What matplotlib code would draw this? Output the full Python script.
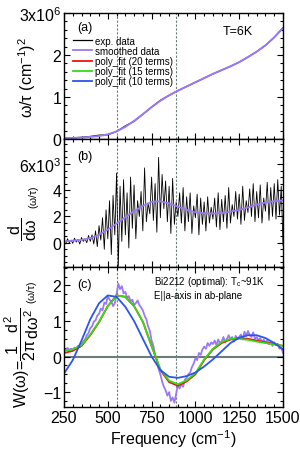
import numpy as np
import matplotlib
matplotlib.use("Agg")
import matplotlib.pyplot as plt
from matplotlib.lines import Line2D
from matplotlib.ticker import MultipleLocator

plt.rcParams["font.family"] = ["Liberation Sans", "DejaVu Sans"]
plt.rcParams["mathtext.fontset"] = "custom"
plt.rcParams["mathtext.rm"] = "Liberation Sans"
plt.rcParams["mathtext.it"] = "Liberation Sans"
plt.rcParams["mathtext.bf"] = "Liberation Sans:bold"

# --- data ---
freq_coarse = np.arange(250, 1501, 50)      # smooth curves, cm^-1
freq_fine = np.arange(250, 1501, 10)        # noisy curves, cm^-1
marker_freqs = [550, 890]

# (a) omega/tau in units of 1e6 cm^-2
wt_smooth = [0.02, 0.025, 0.035, 0.05, 0.07, 0.11, 0.18, 0.29, 0.43, 0.59,
             0.76, 0.91, 1.04, 1.15, 1.25, 1.35, 1.45, 1.55, 1.64, 1.73,
             1.83, 1.95, 2.08, 2.23, 2.42, 2.64]
wt_exp = [0.02, 0.026, 0.04, 0.06, 0.09, 0.1, 0.18, 0.31, 0.42, 0.59,
          0.76, 0.92, 1.04, 1.15, 1.25, 1.35, 1.45, 1.55, 1.64, 1.73,
          1.83, 1.95, 2.08, 2.23, 2.42, 2.65]

# (b) d/dw (omega/tau) in units of 1e3
dwt_exp = [0.1, -0.1, 0.3, 0.0, 0.2, -0.05, 0.35, 0.05, 0.25, -0.1,
           0.4, 0.1, 0.3, 0.0, 0.55, 0.1, 0.6, -0.1, 0.9, -0.3,
           1.3, 0.2, 1.9, -0.5, 2.5, 0.3, 3.2, -0.9, 3.6, 0.6,
           5.3, -1.8, 4.3, 0.1, 4.8, 0.6, 3.8, -0.4, 5.0, 1.1,
           4.4, 0.3, 3.2, 2.0, 3.9, 0.9, 5.7, 1.6, 3.0, 2.2,
           5.0, 1.7, 4.5, 0.8, 6.5, 1.9, 5.2, 2.6, 4.7, 1.6,
           4.3, 0.7, 4.9, 1.4, 3.1, 2.0, 3.8, 1.5, 4.2, 0.9,
           3.5, 1.6, 3.8, 0.7, 2.8, 1.9, 3.7, 0.6, 3.4, 1.4,
           3.1, 0.9, 3.5, 1.5, 2.7, 1.8, 3.4, 1.2, 3.8, 1.0,
           3.3, 1.6, 3.6, 1.1, 4.2, 1.5, 2.9, 2.0, 3.9, 1.8,
           3.7, 1.4, 4.3, 1.7, 3.2, 2.3, 4.1, 2.0, 4.5, 1.6,
           3.9, 1.9, 4.4, 1.5, 3.4, 2.4, 4.6, 1.7, 4.2, 2.0,
           4.5, 1.8, 4.8, 2.1, 4.3, -0.2]
dwt_smooth = [0.1, 0.15, 0.22, 0.35, 0.6, 1.0, 1.46, 1.95, 2.4, 2.8,
              3.12, 3.15, 3.0, 2.75, 2.5, 2.32, 2.24, 2.22, 2.26, 2.36,
              2.5, 2.68, 2.9, 3.06, 3.17, 3.22]

# (c) W(omega)
w_smooth = [0.22, 0.18, 0.24, 0.19, 0.22, 0.2, 0.25, 0.22, 0.3, 0.27,
            0.36, 0.42, 0.48, 0.6, 0.66, 0.8, 0.85, 0.98, 1.02, 1.15,
            1.2, 1.35, 1.3, 1.52, 1.48, 1.7, 1.6, 1.55, 1.42, 1.5,
            1.75, 2.05, 1.9, 1.98, 1.78, 1.82, 1.65, 1.7, 1.55, 1.6,
            1.45, 1.5, 1.58, 1.45, 1.38, 1.3, 1.15, 1.05, 0.85, 0.72,
            0.45, 0.3, 0.05, -0.1, -0.35, -0.5, -0.7, -0.85, -0.95, -1.1,
            -1.0, -1.25, -1.15, -1.3, -1.05, -0.8, -0.9, -0.78, -0.85, -0.65,
            -0.6, -0.5, -0.45, -0.3, -0.2, -0.05, -0.1, 0.1, 0.05, 0.2,
            0.28, 0.22, 0.38, 0.3, 0.4, 0.35, 0.45, 0.32, 0.48, 0.38,
            0.42, 0.55, 0.4, 0.5, 0.6, 0.48, 0.55, 0.42, 0.58, 0.5,
            0.55, 0.62, 0.48, 0.7, 0.58, 0.72, 0.6, 0.55, 0.68, 0.5,
            0.55, 0.45, 0.52, 0.4, 0.48, 0.38, 0.45, 0.35, 0.42, 0.3,
            0.4, 0.32, 0.36, 0.22, 0.25, 0.1]
w_fit20 = [0.1, 0.16, 0.3, 0.6, 0.97, 1.42, 1.72, 1.68, 1.42, 0.98,
           0.3, -0.38, -0.72, -0.82, -0.7, -0.5, -0.1, 0.2, 0.38, 0.48,
           0.52, 0.5, 0.45, 0.4, 0.35, 0.3]
w_fit15 = [0.16, 0.2, 0.32, 0.62, 0.98, 1.42, 1.72, 1.68, 1.42, 0.98,
           0.3, -0.36, -0.68, -0.78, -0.67, -0.47, -0.08, 0.22, 0.41, 0.5,
           0.5, 0.47, 0.42, 0.38, 0.34, 0.3]
w_fit10 = [-0.48, -0.1, 0.45, 1.05, 1.5, 1.72, 1.68, 1.4, 1.0, 0.5,
           0.0, -0.38, -0.57, -0.6, -0.55, -0.45, -0.28, -0.08, 0.15, 0.38,
           0.53, 0.6, 0.6, 0.52, 0.38, 0.2]

c_exp = "black"
c_smooth = "#9b78f5"
c_20 = "#ee1111"
c_15 = "#33dd11"
c_10 = "#2a55ee"
c_guide = "#6f7a7a"

fig = plt.figure(figsize=(3.0, 4.52), dpi=100)
W, H = 300, 452


def add_axes_px(left, top, right, bottom):
    return fig.add_axes([left / W, 1 - bottom / H, (right - left) / W, (bottom - top) / H])


ax_a = add_axes_px(64, 14, 283, 140)
ax_b = add_axes_px(64, 140, 283, 268)
ax_c = add_axes_px(64, 268, 283, 408)

# (a)
ax_a.plot(freq_coarse, wt_exp, color=c_exp, lw=0.9)
ax_a.plot(freq_coarse, wt_smooth, color=c_smooth, lw=1.4)
ax_a.set_ylim(0, 3)
ax_a.set_yticks([0, 1, 2, 3])
ax_a.set_yticklabels(["0", "1", "2", "3x10$^6$"])
ax_a.yaxis.set_minor_locator(MultipleLocator(0.2))
handles = [
    Line2D([], [], color=c_exp, lw=0.9),
    Line2D([], [], color=c_smooth, lw=1.3),
    Line2D([], [], color=c_20, lw=1.3),
    Line2D([], [], color=c_15, lw=1.3),
    Line2D([], [], color=c_10, lw=1.3),
]
labels = ["exp. data", "smoothed data", "poly_fit (20 terms)",
          "poly_fit (15 terms)", "poly_fit (10 terms)"]
ax_a.legend(handles, labels, loc="upper left", bbox_to_anchor=(0.04, 0.82),
            frameon=False, fontsize=7, handlelength=2.0, handletextpad=0.25,
            labelspacing=0.02, borderpad=0, borderaxespad=0)
ax_a.text(0.06, 0.89, "(a)", transform=ax_a.transAxes, fontsize=9, va="center")
ax_a.text(0.726, 0.86, "T=6K", transform=ax_a.transAxes, fontsize=9, va="center")

# (b)
ax_b.plot(freq_fine, dwt_exp, color=c_exp, lw=0.6)
ax_b.plot(freq_coarse, dwt_smooth, color=c_smooth, lw=1.3)
ax_b.set_ylim(-1.85, 7.9)
ax_b.set_yticks([0, 2, 4, 6])
ax_b.set_yticklabels(["0", "2", "4", "6x10$^3$"])
ax_b.yaxis.set_minor_locator(MultipleLocator(0.5))
ax_b.text(0.06, 0.87, "(b)", transform=ax_b.transAxes, fontsize=9, va="center")

# (c)
ax_c.axhline(0, color=c_guide, lw=1.5, zorder=1)
ax_c.plot(freq_fine, w_smooth, color=c_smooth, lw=1.3)
ax_c.plot(freq_coarse, w_fit20, color=c_20, lw=1.3)
ax_c.plot(freq_coarse, w_fit15, color=c_15, lw=1.3)
ax_c.plot(freq_coarse, w_fit10, color=c_10, lw=1.3)
ax_c.set_ylim(-1.42, 2.52)
ax_c.set_yticks([-1, 0, 1, 2])
ax_c.yaxis.set_minor_locator(MultipleLocator(0.25))
ax_c.text(0.06, 0.88, "(c)", transform=ax_c.transAxes, fontsize=9, va="center")
ax_c.text(0.41, 0.9, "Bi2212 (optimal): T$_c$~91K", transform=ax_c.transAxes,
          fontsize=7, va="center")
ax_c.text(0.41, 0.8, "E||a-axis in ab-plane", transform=ax_c.transAxes,
          fontsize=7, va="center")
ax_c.set_xlabel("Frequency (cm$^{-1}$)", fontsize=11.5, labelpad=2)

for ax in (ax_a, ax_b, ax_c):
    for f in marker_freqs:
        ax.axvline(f, color=c_guide, lw=0.8, ls=(0, (2, 1.5)), zorder=0)
    ax.set_xlim(250, 1500)
    ax.set_xticks([250, 500, 750, 1000, 1250, 1500])
    ax.xaxis.set_minor_locator(MultipleLocator(50))
    ax.tick_params(which="both", direction="in", top=True, right=True,
                   labelsize=11.5, width=0.8, pad=2)
    ax.tick_params(which="major", length=4)
    ax.tick_params(which="minor", length=2.5)
    for s in ax.spines.values():
        s.set_linewidth(1.0)
ax_a.tick_params(labelbottom=False)
ax_b.tick_params(labelbottom=False)

# y labels placed in pixel coordinates
fig.text(27 / W, 1 - 78 / H, r"$\omega/\tau$ (cm$^{-1}$)$^2$", rotation=90,
         ha="center", va="center", fontsize=11.5)
fig.text(23 / W, 1 - 229 / H, r"$\dfrac{d}{d\omega}$", rotation=90,
         ha="center", va="center", fontsize=11.5)
fig.text(34 / W, 1 - 197 / H, r"($\omega/\tau$)", rotation=90,
         ha="center", va="center", fontsize=7.5)
fig.text(22 / W, 1 - 358 / H, r"W($\omega$)=$\dfrac{1}{2\pi}\dfrac{d^2}{d\omega^2}$",
         rotation=90, ha="center", va="center", fontsize=11.5)
fig.text(32 / W, 1 - 292 / H, r"($\omega/\tau$)", rotation=90,
         ha="center", va="center", fontsize=7.5)

fig.savefig("out.png", dpi=100)
